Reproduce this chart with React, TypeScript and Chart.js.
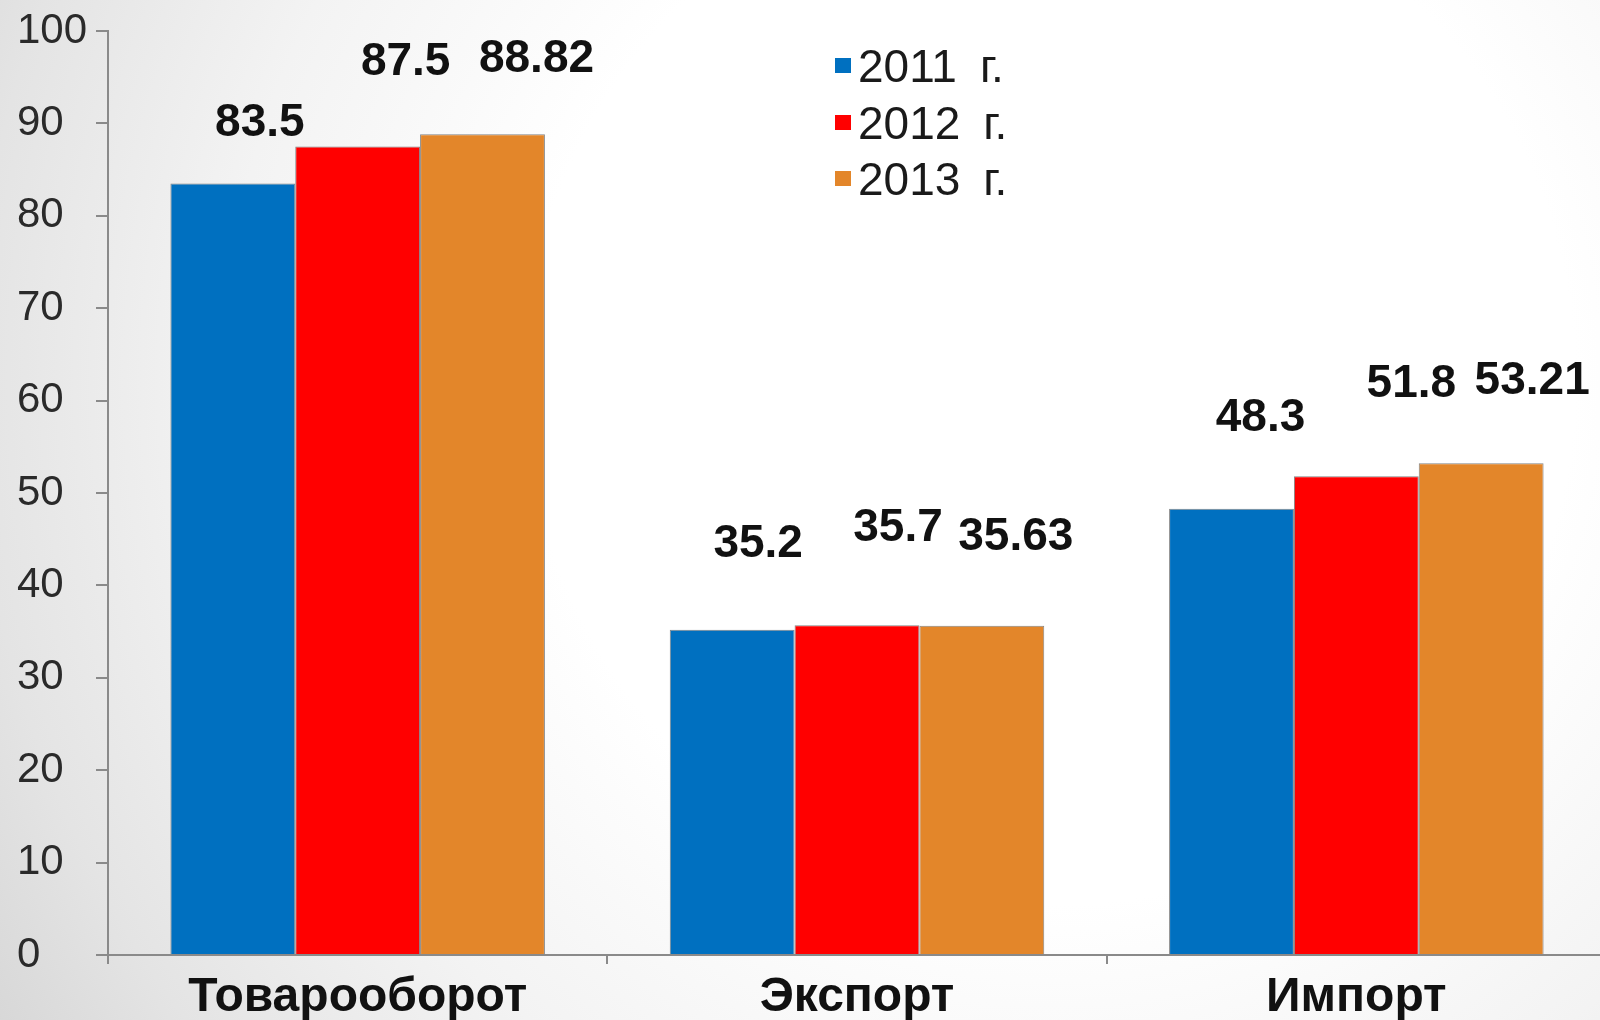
import React, { useEffect, useRef } from "react";
import { Chart, registerables } from "chart.js";

Chart.register(...registerables);

const categories = ["Товарооборот", "Экспорт", "Импорт"];
const seriesNames = ["2011 г.", "2012 г.", "2013 г."];
const values2011 = [83.5, 35.2, 48.3];
const values2012 = [87.5, 35.7, 51.8];
const values2013 = [88.82, 35.63, 53.21];
const colors = ["#0070C0", "#FF0000", "#E3862A"];

// label offsets (px) from the top-center of each bar
const labelOffsets2011 = [[27, -60], [26, -85], [29, -90]];
const labelOffsets2012 = [[48, -84], [41, -97], [55, -92]];
const labelOffsets2013 = [[54, -75], [34, -88], [51, -82]];
const labelOffsets = [labelOffsets2011, labelOffsets2012, labelOffsets2013];

const FONT = "'Liberation Sans', Arial, sans-serif";

const legendPos = { boxX: 835, textX: 858, rows: [66, 123, 179], box: 16, textShift: 3 };

const dataLabelPlugin = {
  id: "dataLabels",
  afterDatasetsDraw(chart: any) {
    const ctx = chart.ctx;
    ctx.save();
    ctx.font = `bold 46px ${FONT}`;
    ctx.fillStyle = "#111";
    ctx.textAlign = "center";
    ctx.textBaseline = "middle";
    chart.data.datasets.forEach((ds: any, di: number) => {
      const meta = chart.getDatasetMeta(di);
      meta.data.forEach((el: any, i: number) => {
        const [dx, dy] = labelOffsets[di][i];
        ctx.fillText(String(ds.data[i]), el.x + dx, el.y + dy);
      });
    });
    ctx.restore();
  },
};

const legendPlugin = {
  id: "customLegend",
  afterDraw(chart: any) {
    const ctx = chart.ctx;
    ctx.save();
    ctx.font = `46px ${FONT}`;
    ctx.textAlign = "left";
    ctx.textBaseline = "middle";
    chart.data.datasets.forEach((ds: any, i: number) => {
      const y = legendPos.rows[i];
      ctx.fillStyle = ds.backgroundColor;
      ctx.fillRect(legendPos.boxX, y - legendPos.box / 2, legendPos.box, legendPos.box - 1);
      ctx.fillStyle = "#1a1a1a";
      ctx.fillText(String(ds.label).replace(" ", "\u2002"), legendPos.textX, y + legendPos.textShift);
    });
    ctx.restore();
  },
};

export default function App() {
  const ref = useRef<HTMLCanvasElement>(null);

  useEffect(() => {
    if (!ref.current) return;
    const series = [values2011, values2012, values2013];
    const chart = new Chart(ref.current, {
      type: "bar",
      data: {
        labels: categories,
        datasets: series.map((vals, i) => ({
          label: seriesNames[i],
          data: vals,
          backgroundColor: colors[i],
          borderColor: "rgba(110,110,110,0.85)",
          borderWidth: 1,
          categoryPercentage: 0.75,
          barPercentage: 1.0,
        })),
      },
      options: {
        responsive: false,
        animation: false,
        events: [],
        layout: { padding: { top: 31, right: 0, left: 17, bottom: 0 } },
        plugins: {
          legend: { display: false },
          tooltip: { enabled: false },
        },
        scales: {
          x: {
            afterFit: (s: any) => {
              s.height = 65;
            },
            grid: {
              display: true,
              drawOnChartArea: false,
              drawTicks: true,
              tickLength: 9,
              color: "#8a8a8a",
              lineWidth: 2,
              offset: true,
            },
            border: { display: true, color: "#8a8a8a", width: 2 },
            ticks: {
              color: "#111",
              font: { family: FONT, size: 48, weight: "bold" },
              padding: 5,
              maxRotation: 0,
            },
          },
          y: {
            min: 0,
            max: 100,
            afterFit: (s: any) => {
              s.width = 91;
            },
            grid: {
              display: true,
              drawOnChartArea: false,
              drawTicks: true,
              tickLength: 12,
              color: "#8a8a8a",
              lineWidth: 2,
            },
            border: { display: true, color: "#8a8a8a", width: 2 },
            ticks: {
              stepSize: 10,
              color: "#2a2a2a",
              font: { family: FONT, size: 42 },
              padding: 2,
              crossAlign: "far",
            },
          },
        },
      },
      plugins: [dataLabelPlugin, legendPlugin],
    });
    return () => chart.destroy();
  }, []);

  return (
    <div
      style={{
        position: "fixed",
        left: 0,
        top: 0,
        width: 1600,
        height: 1020,
        overflow: "hidden",
        background:
          "radial-gradient(circle 1250px at 1050px 380px, #ffffff 0%, #ffffff 42%, #f3f3f3 66%, #e4e4e4 86%, #d6d6d6 100%)",
      }}
    >
      <canvas ref={ref} width={1606} height={1020} style={{ display: "block" }} />
    </div>
  );
}
